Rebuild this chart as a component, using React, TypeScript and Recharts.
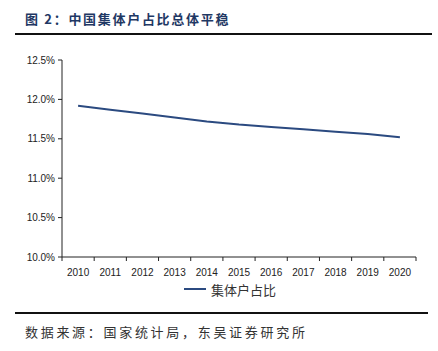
import { LineChart, Line, XAxis, YAxis, Legend } from "recharts";

const years = ["2010", "2011", "2012", "2013", "2014", "2015", "2016", "2017", "2018", "2019", "2020"];
const shareValues = [11.92, 11.87, 11.82, 11.77, 11.72, 11.68, 11.65, 11.62, 11.59, 11.56, 11.52];
const yTicks = [10.0, 10.5, 11.0, 11.5, 12.0, 12.5];

const data = years.map((year, i) => ({ year, share: shareValues[i] }));

const W = 438;
const H = 351;
const PLOT_LEFT = 62;
const PLOT_RIGHT = 416;
const BAND = (PLOT_RIGHT - PLOT_LEFT) / years.length;
const LINE_COLOR = "#2B4A80";
const AXIS_COLOR = "#222";
const TICK_SIZE = 4;
const TICK_MARGIN = 5;

function YearTick(props: any) {
  const { x, y, payload, index } = props;
  const top = y - TICK_SIZE - TICK_MARGIN;
  return (
    <g>
      <line x1={x - BAND / 2} x2={x - BAND / 2} y1={top} y2={top + TICK_SIZE} stroke={AXIS_COLOR} />
      {index === years.length - 1 && (
        <line x1={x + BAND / 2} x2={x + BAND / 2} y1={top} y2={top + TICK_SIZE} stroke={AXIS_COLOR} />
      )}
      <text x={x} y={y} dy={10} textAnchor="middle" fontSize={10} fill="#222" fontFamily="Liberation Sans, Arial, sans-serif">
        {payload.value}
      </text>
    </g>
  );
}

function LegendBox() {
  return (
    <div style={{ display: "flex", justifyContent: "center", alignItems: "center", height: 16, paddingLeft: 44 }}>
      <svg width={22} height={16} style={{ marginRight: 5 }}>
        <line x1={0} x2={22} y1={8} y2={8} stroke={LINE_COLOR} strokeWidth={2} />
      </svg>
      <span style={{ fontSize: 13, color: "#333", fontFamily: "Noto Sans CJK SC, sans-serif" }}>集体户占比</span>
    </div>
  );
}

export default function App() {
  return (
    <div style={{ position: "absolute", left: 0, top: 0, width: W, height: H, background: "#fff" }}>
      <div
        style={{
          position: "absolute",
          left: 25,
          top: 10,
          fontSize: 13,
          letterSpacing: 1.7,
          fontWeight: 700,
          color: "#1F3864",
          fontFamily: "Noto Sans CJK SC, sans-serif",
          lineHeight: "18px",
          whiteSpace: "nowrap",
        }}
      >
        图 2：中国集体户占比总体平稳
      </div>
      <div style={{ position: "absolute", left: 15, top: 33, width: 417, height: 2, background: "#111" }} />

      <div style={{ position: "absolute", left: 0, top: 0 }}>
        <LineChart width={W} height={H} data={data} margin={{ top: 60, right: W - PLOT_RIGHT, left: 0, bottom: 54 }}>
          <XAxis
            dataKey="year"
            scale="band"
            stroke={AXIS_COLOR}
            tickLine={false}
            tickSize={TICK_SIZE}
            tickMargin={TICK_MARGIN}
            height={24}
            interval={0}
            tick={<YearTick />}
          />
          <YAxis
            width={PLOT_LEFT}
            domain={[10, 12.5]}
            ticks={yTicks}
            stroke={AXIS_COLOR}
            tickSize={TICK_SIZE}
            tickMargin={3}
            tick={{ fontSize: 10, fill: "#222", fontFamily: "Liberation Sans, Arial, sans-serif" }}
            tickFormatter={(v: number) => `${v.toFixed(1)}%`}
          />
          <Legend verticalAlign="bottom" content={<LegendBox />} />
          <Line
            type="linear"
            dataKey="share"
            name="集体户占比"
            stroke={LINE_COLOR}
            strokeWidth={2}
            dot={false}
            activeDot={false}
            isAnimationActive={false}
          />
        </LineChart>
      </div>

      <div style={{ position: "absolute", left: 15, top: 312, width: 413, height: 2, background: "#111" }} />
      <div
        style={{
          position: "absolute",
          left: 25,
          top: 323,
          fontSize: 13,
          letterSpacing: 2.7,
          color: "#333",
          fontFamily: "Noto Sans CJK SC, sans-serif",
          lineHeight: "18px",
          whiteSpace: "nowrap",
        }}
      >
        数据来源：国家统计局，东吴证券研究所
      </div>
    </div>
  );
}
